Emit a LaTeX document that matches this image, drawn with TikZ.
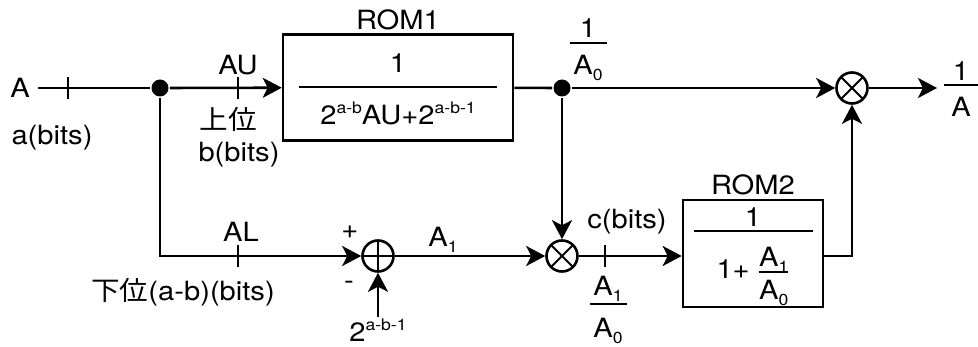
\documentclass[tikz,border=0pt]{standalone}
\usepackage{amsmath}
\usepackage{fontspec}
\setmainfont{TeX Gyre Heros}[FakeStretch=1.1]
\newfontfamily\jpfont{Noto Sans CJK JP}[FakeStretch=1.08]
\usetikzlibrary{positioning,arrows.meta}

\newcommand{\supx}[1]{\raisebox{0.42em}{\fontsize{16}{16}\selectfont #1}}
\newcommand{\subx}[1]{\raisebox{-0.22em}{\fontsize{16}{16}\selectfont #1}}
% lower a part of a fraction without changing its size
\newcommand{\lw}[2]{\raisebox{-#1}[\height][\depth]{#2}}
\newcommand{\frc}[4]{\genfrac{}{}{2pt}{0}{\mbox{\lw{#1}{#2}}}{\mbox{\lw{#3}{#4}}}}
\newcommand{\frct}[4]{\genfrac{}{}{2pt}{1}{\mbox{\lw{#1}{#2}}}{\mbox{\lw{#3}{#4}}}}

\begin{document}
\begin{tikzpicture}[x=1pt, y=-1pt, line width=2.6pt,
    >={Stealth[length=19pt, width=20pt, inset=5pt]},
    font=\fontsize{26.5}{30}\selectfont,
    dot/.style={circle, fill, inner sep=0pt, minimum size=17pt},
    rom/.style={draw, rectangle, inner sep=0pt},
    op/.style={circle, draw, inner sep=0pt, minimum size=31pt},
    mul/.style={op, path picture={
        \draw[line width=1.8pt] (path picture bounding box.north west) -- (path picture bounding box.south east)
            (path picture bounding box.south west) -- (path picture bounding box.north east);}},
    add/.style={op, path picture={
        \draw[line width=1.8pt] (path picture bounding box.north) -- (path picture bounding box.south)
            (path picture bounding box.west) -- (path picture bounding box.east);}},
    lbl/.style={inner sep=0pt}]
    \useasboundingbox (0,0) rectangle (978,347);

    % blocks
    \node (a) [lbl, inner xsep=7pt] at (20,88) {A};
    \node (dot1) [dot] at (160,88) {};
    \node (rom1) [rom, minimum width=230pt, minimum height=106pt] at (398,87.5)
        {$\frc{-4pt}{1}{8pt}{\makebox[198pt]{2\supx{a-b}AU+2\supx{a-b-1}}}$};
    \node (rom1name) [lbl, above=2pt of rom1] {ROM1};
    \node (dot2) [dot] at (562,88) {};
    \node (mult1) [mul] at (852,88) {};
    \coordinate (out) at (937,88);
    \node (adder) [add] at (378,256) {};
    \node (cst) [lbl] at (378,330) {2\supx{a-b-1}};
    \node (mult2) [mul] at (562,256) {};
    \node (rom2) [rom, minimum width=140pt, minimum height=107pt] at (753,253.5)
        {$\frct{-1pt}{1}{6pt}{\makebox[119pt]{1+ $\frc{7pt}{A\subx{1}}{1pt}{A\subx{0}}$}}$};
    \node (rom2name) [lbl, above=2pt of rom2] {ROM2};

    % connectors
    \draw (a) -- (dot1);
    \draw [->] (dot1) -- (rom1);
    \draw [->] (dot1) |- (adder);
    \draw (rom1) -- (dot2);
    \draw [->] (dot2) -- (mult1);
    \draw [->] (mult1) -- (out);
    \draw [->] (dot2) -- (mult2);
    \draw [->] (cst) -- (adder);
    \draw [->] (adder) -- (mult2);
    \draw [->] (mult2) -- (rom2.west |- mult2);
    \draw [->] (rom2.east |- mult2) -| (mult1);

    % bit-width ticks
    \foreach \x/\y in {68/88, 238/88, 238/256, 605/256}
        \draw (\x,\y-11) -- (\x,\y+11);

    % labels
    \node [lbl] at (52,138) {a(bits)};
    \node [lbl] at (238,65) {AU};
    \node [lbl] at (228,119) {\jpfont 上位};
    \node [lbl] at (239,155) {b(bits)};
    \node [lbl, anchor=base] at (588,49.6) {$\frc{5pt}{1}{5pt}{\makebox[37pt]{A\subx{0}}}$};
    \node [lbl, anchor=base] at (961,91.6) {$\frc{6pt}{1}{5pt}{\makebox[34pt]{A}}$};
    \node [lbl] at (241,232) {AL};
    \node [lbl] at (183,292) {\jpfont 下位\rmfamily(a-b)(bits)};
    \node [lbl] at (350,232) {+};
    \node [lbl] at (349,285) {-};
    \node [lbl] at (443,240) {A\subx{1}};
    \node [lbl] at (627,222) {c(bits)};
    \node [lbl, anchor=base] at (608,310.6) {$\frc{4pt}{\makebox[37pt]{A\subx{1}}}{7pt}{A\subx{0}}$};
\end{tikzpicture}
\end{document}
